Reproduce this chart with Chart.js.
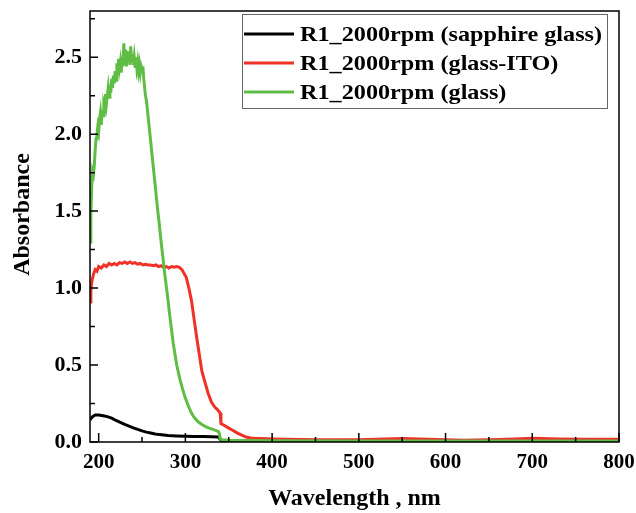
<!DOCTYPE html>
<html>
<head>
<meta charset="utf-8">
<script src="https://cdn.jsdelivr.net/npm/chart.js@4.4.0/dist/chart.umd.min.js"></script>
<style>
  html, body { margin: 0; padding: 0; background: #fff; }
  #wrap { width: 636px; height: 513px; }
</style>
</head>
<body>
<div id="wrap"><canvas id="chart" width="636" height="513"></canvas></div>
<script>
// sapphire glass
const sapphireX = [190,193,196,200,205,210,215,220,225,230,235,240,245,250,255,260,265,270,275,280,290,300,310,320,330,338,340,342,350,400,450,500,550,600,650,700,750,800];
const sapphireY = [0.145,0.165,0.175,0.175,0.17,0.165,0.155,0.14,0.128,0.115,0.103,0.092,0.082,0.072,0.064,0.058,0.052,0.048,0.045,0.042,0.039,0.037,0.036,0.035,0.034,0.033,0.02,0.008,0.006,0.005,0.005,0.005,0.005,0.005,0.005,0.005,0.005,0.005];

// glass-ITO
const itoX = [190,191,192,194,196,198,200,203,206,209,212,215,218,221,224,227,230,233,236,239,242,245,248,251,254,257,260,263,266,269,272,275,278,281,284,287,290,293,296,299,301,304,307,310,313,316,319,322,326,330,334,337,340,341,345,350,355,360,365,370,375,380,400,450,500,530,550,580,620,650,680,700,730,760,800];
const itoY = [0.91,0.98,1.04,1.09,1.12,1.11,1.14,1.13,1.15,1.14,1.16,1.15,1.16,1.15,1.165,1.16,1.17,1.16,1.17,1.16,1.165,1.155,1.16,1.15,1.155,1.15,1.15,1.145,1.15,1.14,1.145,1.135,1.14,1.13,1.14,1.135,1.14,1.135,1.12,1.09,1.07,1.0,0.92,0.80,0.68,0.57,0.46,0.40,0.32,0.26,0.225,0.21,0.19,0.12,0.107,0.09,0.075,0.058,0.045,0.032,0.026,0.024,0.02,0.015,0.015,0.02,0.022,0.018,0.012,0.015,0.02,0.025,0.02,0.018,0.018];

// glass
const glassX = [190,191,192,193,194,195,196,197,198,199,200,201,202,203,204,205,206,207,208,209,210,211,212,213,214,215,216,217,218,219,220,221,222,223,224,225,226,227,228,229,230,231,232,233,234,235,236,237,238,239,240,241,242,243,244,245,246,247,248,249,250,251,252,253,254,255,256,258,260,262,264,266,268,270,272,274,276,278,280,282,284,286,288,290,292,294,296,298,300,303,306,310,315,320,325,330,335,338,339,340,342,350,400,500,600,700,800];
const glassY = [1.30,1.48,1.66,1.76,1.74,1.80,1.90,1.97,2.00,2.05,2.02,2.10,2.14,2.06,2.16,2.12,2.20,2.18,2.26,2.20,2.25,2.30,2.24,2.32,2.27,2.36,2.30,2.38,2.33,2.41,2.35,2.46,2.38,2.49,2.43,2.47,2.40,2.50,2.44,2.59,2.45,2.55,2.44,2.54,2.47,2.53,2.45,2.57,2.47,2.52,2.45,2.50,2.44,2.50,2.43,2.47,2.41,2.45,2.40,2.44,2.42,2.44,2.36,2.30,2.25,2.22,2.17,2.06,1.95,1.84,1.73,1.62,1.51,1.41,1.30,1.20,1.10,1.01,0.92,0.82,0.73,0.64,0.57,0.50,0.45,0.40,0.36,0.32,0.285,0.24,0.20,0.16,0.13,0.11,0.095,0.085,0.075,0.068,0.06,0.025,0.015,0.012,0.008,0.006,0.006,0.006,0.006];

const seriesLabels = ['R1_2000rpm (sapphire glass)', 'R1_2000rpm (glass-ITO)', 'R1_2000rpm (glass)'];
const xMajor = [200, 300, 400, 500, 600, 700, 800];
const xMinor = [250, 350, 450, 550, 650, 750];
const yMajor = [0, 0.5, 1.0, 1.5, 2.0, 2.5];
const yMinor = [0.25, 0.75, 1.25, 1.75, 2.25, 2.75];

const pts = (xs, ys) => xs.map((x, i) => ({ x: x, y: ys[i] }));

const SERIF = '"Liberation Serif", "Times New Roman", serif';
Chart.defaults.font.family = SERIF;
Chart.defaults.font.weight = 'bold';
Chart.defaults.color = '#000';

// frame + inward ticks
const frame = {
  id: 'frame',
  afterDraw(chart) {
    const { ctx, chartArea: a, scales } = chart;
    ctx.save();
    ctx.strokeStyle = '#000';
    ctx.lineWidth = 1.5;
    ctx.strokeRect(a.left, a.top, a.right - a.left, a.bottom - a.top);
    ctx.beginPath();
    xMajor.forEach(v => { const p = scales.x.getPixelForValue(v); ctx.moveTo(p, a.bottom); ctx.lineTo(p, a.bottom - 9); });
    xMinor.forEach(v => { const p = scales.x.getPixelForValue(v); ctx.moveTo(p, a.bottom); ctx.lineTo(p, a.bottom - 5); });
    yMajor.forEach(v => { const p = scales.y.getPixelForValue(v); ctx.moveTo(a.left, p); ctx.lineTo(a.left + 8, p); });
    yMinor.forEach(v => { const p = scales.y.getPixelForValue(v); ctx.moveTo(a.left, p); ctx.lineTo(a.left + 5, p); });
    ctx.stroke();
    ctx.restore();
  }
};

// legend box in the top right
const boxLegend = {
  id: 'boxLegend',
  afterDraw(chart) {
    const ctx = chart.ctx;
    const x0 = 242, y0 = 14, w = 365, h = 94;
    ctx.save();
    ctx.fillStyle = '#fff';
    ctx.fillRect(x0, y0, w, h);
    ctx.strokeStyle = '#666';
    ctx.lineWidth = 1;
    ctx.strokeRect(x0 + 0.5, y0 + 0.5, w, h);
    chart.data.datasets.forEach((ds, i) => {
      const y = 34 + i * 29;
      ctx.strokeStyle = ds.borderColor;
      ctx.lineWidth = 3;
      ctx.beginPath();
      ctx.moveTo(244, y);
      ctx.lineTo(294, y);
      ctx.stroke();
      ctx.save();
      ctx.translate(300, y + 1);
      ctx.scale(1.1, 1);
      ctx.font = 'bold 22px ' + SERIF;
      ctx.textBaseline = 'middle';
      ctx.fillStyle = '#000';
      ctx.fillText(ds.label, 0, 0);
      ctx.restore();
    });
    ctx.restore();
  }
};

new Chart(document.getElementById('chart'), {
  type: 'line',
  data: {
    datasets: [
      { label: seriesLabels[0], data: pts(sapphireX, sapphireY), borderColor: '#000000', order: 2 },
      { label: seriesLabels[1], data: pts(itoX, itoY), borderColor: '#ef3128', order: 1 },
      { label: seriesLabels[2], data: pts(glassX, glassY), borderColor: '#5fbd46', order: 0 }
    ]
  },
  options: {
    responsive: false,
    animation: false,
    layout: { padding: { top: 11, right: 17, left: 0, bottom: 0 } },
    elements: {
      line: { borderWidth: 3, tension: 0 },
      point: { radius: 0 }
    },
    plugins: { legend: { display: false }, tooltip: { enabled: false } },
    scales: {
      x: {
        type: 'linear', min: 190, max: 800,
        grid: { display: false, drawTicks: false },
        border: { display: false },
        ticks: { padding: 8, font: { size: 21 }, color: '#000', maxRotation: 0, autoSkip: false },
        afterBuildTicks: s => { s.ticks = xMajor.map(v => ({ value: v })); },
        title: { display: true, text: 'Wavelength , nm', font: { size: 24, weight: 'bold' }, color: '#000', padding: 0 },
        afterFit: s => { s.height = 71; s.paddingLeft = 0; s.paddingRight = 0; }
      },
      y: {
        min: 0, max: 2.8,
        grid: { display: false, drawTicks: false },
        border: { display: false },
        ticks: { padding: 8, font: { size: 22 }, color: '#000', autoSkip: false, callback: v => v.toFixed(1) },
        afterBuildTicks: s => { s.ticks = yMajor.map(v => ({ value: v })); },
        title: { display: true, text: '\u2002\u2002Absorbance', font: { size: 24, weight: 'bold' }, color: '#000', padding: { top: 8, bottom: 0 } },
        afterFit: s => { s.width = 90; s.paddingTop = 0; s.paddingBottom = 0; }
      }
    }
  },
  plugins: [frame, boxLegend]
});
</script>
</body>
</html>
